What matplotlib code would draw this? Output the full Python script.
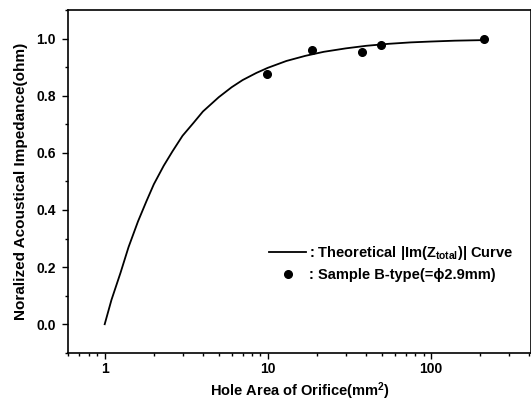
import numpy as np
import matplotlib
matplotlib.use("Agg")
import matplotlib.pyplot as plt
from matplotlib.lines import Line2D
from matplotlib.ticker import MultipleLocator, LogLocator, FixedFormatter, FixedLocator

plt.rcParams['font.family'] = ['Liberation Sans', 'DejaVu Sans']
plt.rcParams['font.weight'] = 'bold'
plt.rcParams['mathtext.fontset'] = 'custom'
plt.rcParams['mathtext.rm'] = 'Liberation Sans:bold'
plt.rcParams['mathtext.it'] = 'Liberation Sans:bold'
plt.rcParams['mathtext.bf'] = 'Liberation Sans:bold'

# theoretical curve
curve_x = [1, 1.1, 1.25, 1.4, 1.6, 1.8, 2, 2.3, 2.6, 3, 3.5, 4, 5, 6, 7, 8.5, 10,
           13, 17, 22, 30, 40, 55, 75, 100, 140, 210]
curve_y = [0.0, 0.085, 0.18, 0.27, 0.36, 0.43, 0.49, 0.555, 0.605, 0.66, 0.705, 0.745,
           0.795, 0.83, 0.855, 0.88, 0.898, 0.922, 0.94, 0.954, 0.966, 0.975, 0.982,
           0.987, 0.99, 0.993, 0.995]

# measured samples
sample_x = [9.9, 18.7, 37.6, 49.5, 210]
sample_y = [0.876, 0.961, 0.955, 0.977, 1.0]

fig = plt.figure(figsize=(5.31, 4.05), dpi=100)
ax = fig.add_axes([0.129, 0.129, 0.871, 0.846])

ax.plot(curve_x, curve_y, color='black', lw=1.3)
ax.plot(sample_x, sample_y, 'o', color='black', ms=5.5)

ax.set_xscale('log')
ax.set_xlim(0.6, 410)
ax.set_ylim(-0.1, 1.1)

ax.xaxis.set_major_locator(FixedLocator([1, 10, 100]))
ax.xaxis.set_major_formatter(FixedFormatter(['1', '10', '100']))
ax.xaxis.set_minor_locator(LogLocator(base=10, subs=np.arange(2, 10)))
ax.xaxis.set_minor_formatter(plt.NullFormatter())
ax.yaxis.set_major_locator(MultipleLocator(0.2))
ax.yaxis.set_minor_locator(MultipleLocator(0.1))
ax.yaxis.set_major_formatter(plt.FormatStrFormatter('%.1f'))

ax.tick_params(which='both', direction='out', labelsize=10, width=1)
ax.tick_params(which='major', length=4, pad=5)
ax.tick_params(axis='x', which='major', pad=3)
ax.tick_params(which='minor', length=2.5)
for s in ax.spines.values():
    s.set_linewidth(1.2)

ax.set_xlabel('Hole Area of Orifice(mm$^2$)', fontsize=10.5, fontweight='bold', labelpad=3)
ax.set_ylabel('Noralized Acoustical Impedance(ohm)', fontsize=11, fontweight='bold', labelpad=6)

handles = [Line2D([], [], color='black', lw=1.3),
           Line2D([], [], marker='o', ls='none', color='black', ms=5.5)]
labels = [': Theoretical |Im(Z$_{total}$)| Curve', ': Sample B-type(=\u03d52.9mm)']
ax.legend(handles, labels, loc='upper left', bbox_to_anchor=(0.42, 0.335),
          frameon=False, fontsize=10.5, handlelength=2.6, handletextpad=0.2,
          labelspacing=0.4, borderaxespad=0)

fig.savefig('out.png', dpi=100)
